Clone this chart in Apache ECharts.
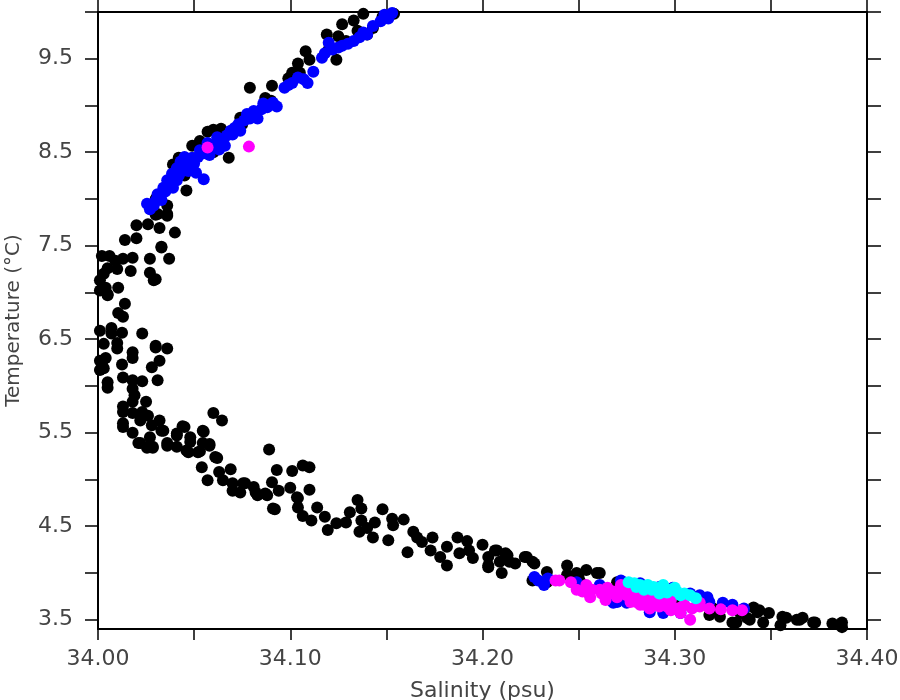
<!DOCTYPE html>
<html>
<head>
<meta charset="utf-8">
<script src="https://cdn.jsdelivr.net/npm/echarts@6/dist/echarts.min.js"></script>
<style>html,body{margin:0;padding:0;background:#fff}#c{width:900px;height:700px}</style>
</head>
<body>
<div id="c"></div>
<script>
var xAxisName = 'Salinity (psu)';
var yAxisName = 'Temperature (°C)';
var xMin = 34.00, xMax = 34.40, xTickStep = 0.05;
var yMin = 3.4, yMax = 10.0;
var yTickValues = [3.5,4.0,4.5,5.0,5.5,6.0,6.5,7.0,7.5,8.0,8.5,9.0,9.5,10.0];
var yLabelValues = [3.5,4.5,5.5,6.5,7.5,8.5,9.5];

var blackPoints = [
[34.079,9.19],[34.0905,9.21],[34.108,9.58],[34.104,9.45],[34.110,9.49],[34.119,9.76],[34.125,9.74],[34.127,9.87],[34.133,9.91],[34.138,9.98],[34.124,9.49],[34.057,8.72],[34.060,8.74],[34.064,8.75],[34.049,8.57],[34.053,8.62],[34.068,8.44],[34.039,8.37],[34.042,8.44],[34.046,8.09],[34.036,7.84],[34.031,7.84],[34.036,7.93],[34.074,8.87],[34.087,9.08],[34.143,9.83],[34.140,9.76],[34.101,9.35],[34.099,9.29],[34.154,9.98],[34.129,9.69],
[34.030,8.00],[34.045,8.25],[34.060,8.50],[34.075,8.80],[34.090,9.05],[34.105,9.35],[34.120,9.60],[34.135,9.80],[34.148,9.95],
[34.020,7.72],[34.026,7.73],[34.032,7.69],[34.040,7.64],[34.036,7.82],[34.030,7.83],[34.014,7.56],[34.020,7.58],[34.033,7.48],[34.027,7.36],[34.037,7.36],[34.027,7.21],[34.030,7.14],[34.006,7.39],[34.009,7.34],[34.013,7.36],[34.018,7.37],[34.005,7.26],[34.010,7.25],[34.003,7.20],[34.017,7.23],[34.001,7.13],[34.004,7.05],[34.0105,7.05],[34.005,6.98],[34.001,7.02],[34.014,6.88],[34.0105,6.78],[34.013,6.74],[34.007,6.62],[34.007,6.56],[34.0125,6.57],[34.023,6.56],[34.003,6.45],[34.010,6.46],[34.010,6.40],[34.004,6.30],[34.002,6.24],[34.001,6.17],[34.018,6.36],[34.018,6.30],[34.030,6.43],[34.036,6.40],[34.032,6.27],[34.028,6.20],[34.0125,6.23],[34.013,6.09],[34.005,6.04],[34.005,5.98],[34.018,6.06],[34.023,6.05],[34.031,6.06],[34.018,5.97],[34.019,5.90],[34.018,5.83],[34.025,5.83],[34.013,5.78],[34.013,5.72],[34.018,5.71],[34.023,5.72],[34.026,5.68],[34.022,5.63],[34.032,5.63],[34.028,5.58],[34.013,5.56],[34.018,5.50],[34.033,5.52],[34.027,5.45],[34.021,5.39],[34.0255,5.34],[34.0285,5.35],[34.036,5.36],[34.041,5.35],[34.041,5.47],[34.045,5.56],[34.048,5.45],[34.055,5.51],[34.047,5.29],[34.053,5.30],[34.058,5.36],[34.061,5.24],[34.060,5.71],[34.0645,5.63],[34.089,5.32],
[34.002,7.39],[34.005,6.97],[34.001,6.59],[34.001,6.27],[34.003,6.19],[34.030,6.41],[34.033,7.49],[34.029,7.13],
[34.093,5.10],[34.101,5.09],[34.091,4.69],[34.054,5.13],[34.062,5.23],[34.057,4.99],[34.063,5.08],[34.069,5.11],[34.065,4.99],[34.070,4.96],[34.0755,4.96],[34.070,4.88],[34.074,4.86],[34.081,4.92],[34.083,4.83],[34.088,4.83],[34.0905,4.97],[34.100,4.91],[34.1035,4.81],[34.0545,5.39],[34.058,5.38],[34.052,5.29],[34.046,5.31],[34.048,5.40],[34.041,5.49],[34.044,5.57],[34.0545,5.52],[34.036,5.39],[34.0285,5.34],[34.022,5.39],[34.013,5.60],[34.034,5.52],[34.022,5.68],
[34.1065,5.15],[34.110,5.13],[34.0765,4.96],[34.082,4.86],[34.087,4.85],[34.094,4.88],[34.092,4.68],[34.104,4.80],[34.110,4.89],[34.104,4.70],[34.1065,4.61],[34.114,4.70],[34.111,4.56],[34.118,4.60],[34.1195,4.46],[34.124,4.53],[34.129,4.54],[34.131,4.65],[34.135,4.78],[34.137,4.69],[34.137,4.56],[34.136,4.44],[34.140,4.48],[34.144,4.54],[34.143,4.38],[34.148,4.68],[34.151,4.35],[34.153,4.58],[34.159,4.57],[34.1535,4.51],[34.164,4.44],[34.166,4.38],[34.161,4.22],[34.1685,4.33],[34.174,4.38],[34.173,4.24],[34.1815,4.28],[34.178,4.17],[34.187,4.38],[34.192,4.34],[34.193,4.24],[34.188,4.21],[34.195,4.16],[34.200,4.30],[34.203,4.17],[34.2075,4.24],[34.213,4.19],[34.214,4.12],[34.222,4.17],[34.226,4.12],[34.1815,4.08],[34.203,4.08],
[34.2065,4.24],[34.212,4.21],[34.209,4.12],[34.203,4.06],[34.210,4.00],[34.217,4.10],[34.223,4.17],[34.227,4.10],[34.2335,4.01],[34.244,4.08],[34.244,3.98],[34.249,4.00],[34.254,4.03],[34.2595,4.00],[34.226,3.92],[34.2335,3.90],[34.251,3.90],[34.270,3.90],[34.261,4.00],
[34.334,3.57],[34.332,3.47],[34.339,3.50],[34.344,3.60],[34.349,3.57],[34.356,3.53],[34.346,3.47],[34.3635,3.50],[34.3665,3.52],[34.373,3.47],[34.382,3.46],[34.387,3.42],[34.355,3.44],[34.341,3.63],[34.3235,3.53],[34.318,3.55],[34.330,3.47],[34.3375,3.52],[34.343,3.58],[34.358,3.52],[34.365,3.50],[34.372,3.47],[34.387,3.47],
[34.25,3.95],[34.28,3.80],[34.30,3.72],[34.32,3.62]
];

var bluePoints = [
[34.0255,7.95],[34.031,8.05],[34.034,8.12],[34.0385,8.27],[34.041,8.33],[34.046,8.37],[34.049,8.44],[34.055,8.49],[34.059,8.55],[34.065,8.62],[34.063,8.53],[34.069,8.73],[34.073,8.80],[34.0775,8.91],[34.081,8.94],[34.083,8.86],[34.086,9.02],[34.091,9.03],[34.093,8.99],[34.055,8.21],[34.097,9.19],[34.101,9.24],[34.107,9.28],[34.109,9.24],[34.112,9.36],[34.1165,9.51],[34.120,9.67],[34.125,9.62],[34.127,9.64],[34.133,9.69],[34.136,9.73],[34.140,9.76],[34.147,9.90],[34.151,9.93],[34.027,7.89],[34.044,8.30],[34.049,8.33],[34.039,8.12],
[34.036,8.20],[34.043,8.40],[34.052,8.45],[34.057,8.60],[34.062,8.66],[34.067,8.68],[34.071,8.76],[34.079,8.86],[34.085,8.96],[34.099,9.22],[34.104,9.30],[34.118,9.56],[34.122,9.60],[34.130,9.66],[34.138,9.78],[34.143,9.85],[34.149,9.97],[34.153,9.99],[34.030,7.98],[34.041,8.20],
[34.035,8.08],[34.038,8.18],[34.042,8.25],[34.047,8.30],[34.050,8.38],[34.045,8.45],[34.053,8.52],[34.058,8.47],[34.061,8.58],[34.066,8.57],[34.070,8.69],[34.074,8.73],[34.076,8.84],[34.080,8.90],[34.088,8.98],[34.051,8.28],[34.033,7.99],[34.029,7.93],
[34.227,3.955],[34.229,3.92],[34.234,3.94],[34.232,3.87],[34.249,3.90],[34.261,3.87],[34.268,3.68],[34.270,3.69],[34.275,3.68],[34.287,3.58],[34.294,3.57],[34.303,3.57],[34.292,3.85],[34.299,3.84],[34.308,3.78],[34.313,3.71],[34.317,3.74],[34.318,3.69],[34.325,3.68],[34.330,3.66],[34.336,3.62],[34.282,3.89],[34.272,3.92],[34.313,3.76]
];

var magentaPoints = [
[34.057,8.55],[34.0785,8.56],
[34.238,3.92],[34.240,3.92],[34.246,3.90],[34.249,3.82],[34.252,3.80],[34.254,3.87],[34.257,3.82],[34.261,3.82],[34.265,3.84],[34.266,3.78],[34.268,3.80],[34.272,3.87],[34.272,3.82],[34.275,3.76],[34.277,3.80],[34.277,3.69],[34.280,3.69],[34.282,3.66],[34.283,3.78],[34.286,3.74],[34.287,3.62],[34.291,3.68],[34.291,3.74],[34.292,3.64],[34.296,3.64],[34.298,3.60],[34.298,3.71],[34.301,3.62],[34.303,3.57],[34.304,3.64],[34.308,3.50],[34.313,3.64],[34.313,3.68],[34.318,3.62],[34.324,3.61],[34.330,3.60],[34.335,3.60],[34.256,3.74],[34.264,3.71],
[34.262,3.78],[34.270,3.74],[34.279,3.73],[34.288,3.70],[34.295,3.68],[34.305,3.66],[34.309,3.62],[34.284,3.66]
];

var cyanPoints = [
[34.276,3.90],[34.279,3.89],[34.282,3.87],[34.286,3.87],[34.289,3.85],[34.292,3.84],[34.296,3.82],[34.298,3.82],[34.301,3.80],[34.305,3.78],[34.308,3.76],[34.311,3.73],[34.284,3.82],[34.292,3.78],
[34.280,3.85],[34.288,3.82],[34.296,3.79],[34.303,3.76],[34.300,3.84],[34.294,3.87]
];

var FONT = 'DejaVu Sans';
var TXT = '#444';
var chart = echarts.init(document.getElementById('c'), null, {renderer: 'canvas'});
function sc(name, data, color) {
  return {name: name, type: 'scatter', data: data, symbol: 'circle', symbolSize: 12,
    itemStyle: {color: color, opacity: 1}, xAxisIndex: 0, yAxisIndex: 0, silent: true};
}
var axLine = {show: true, lineStyle: {color: '#000', width: 2}};
chart.setOption({
  animation: false,
  backgroundColor: '#fff',
  grid: {left: 98, right: 33, top: 12, bottom: 71, containLabel: false, outerBoundsMode: 'none'},
  xAxis: [{
    type: 'value', position: 'bottom', min: xMin, max: xMax, interval: xTickStep,
    axisLine: axLine, splitLine: {show: false},
    axisTick: {show: true, inside: false, length: 11, lineStyle: {color: '#000', width: 1.5}},
    axisLabel: {margin: 19, fontFamily: FONT, fontSize: 22, color: TXT,
      formatter: function (v) { return Math.round(v * 100) % 10 === 0 ? v.toFixed(2) : ''; }},
    name: xAxisName, nameLocation: 'middle', nameGap: 51,
    nameTextStyle: {fontFamily: FONT, fontSize: 22, color: TXT}
  }, {
    type: 'value', position: 'top', min: xMin, max: xMax, interval: xTickStep,
    axisLine: axLine, splitLine: {show: false},
    axisTick: {show: true, inside: false, length: 12, lineStyle: {color: '#000', width: 1.5}},
    axisLabel: {show: false}
  }],
  yAxis: [{
    type: 'value', position: 'left', min: yMin, max: yMax,
    axisLine: axLine, splitLine: {show: false},
    axisTick: {show: true, inside: false, length: 13, customValues: yTickValues, lineStyle: {color: '#000', width: 1.5}},
    axisLabel: {margin: 25, fontFamily: FONT, fontSize: 22, color: TXT, customValues: yLabelValues,
      formatter: function (v) { return v.toFixed(1); }},
    name: yAxisName, nameLocation: 'middle', nameGap: 74, nameRotate: 90,
    nameTextStyle: {fontFamily: FONT, fontSize: 20, color: TXT}
  }, {
    type: 'value', position: 'right', min: yMin, max: yMax,
    axisLine: axLine, splitLine: {show: false},
    axisTick: {show: true, inside: false, length: 14, customValues: yTickValues, lineStyle: {color: '#000', width: 1.5}},
    axisLabel: {show: false}
  }],
  series: [
    sc('black', blackPoints, '#000000'),
    sc('blue', bluePoints, '#0000ff'),
    sc('magenta', magentaPoints, '#ff00ff'),
    sc('cyan', cyanPoints, '#00ffff')
  ]
});
</script>
</body>
</html>
